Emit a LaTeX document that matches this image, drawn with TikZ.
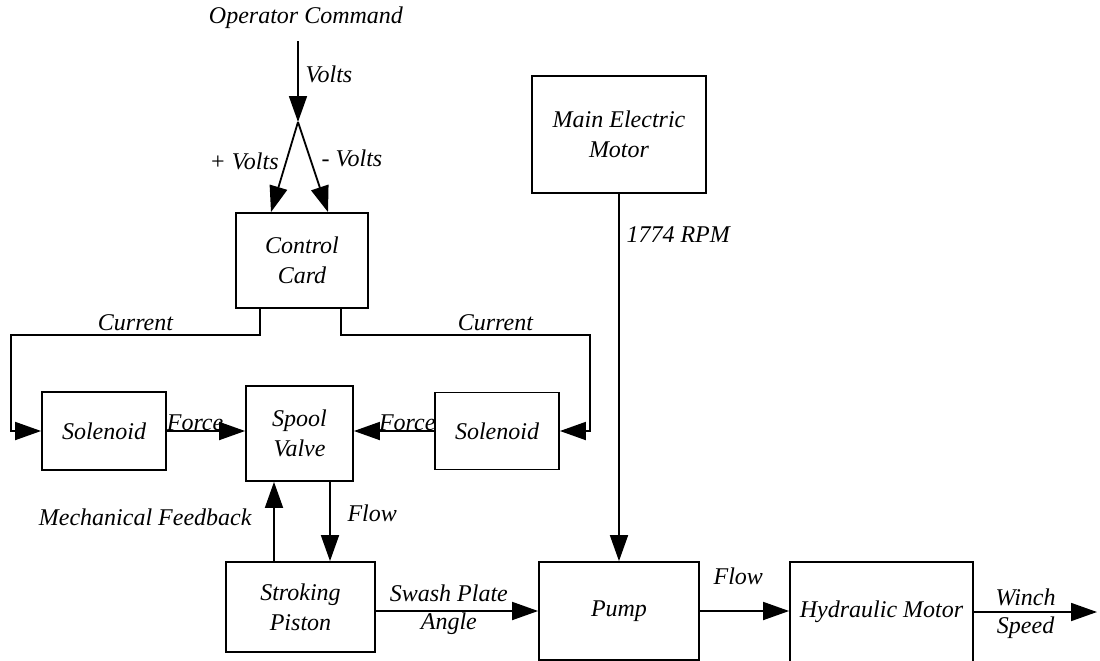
\documentclass[tikz,border=0pt]{standalone}
\usepackage{fontspec}
\setmainfont{Liberation Serif}
\usetikzlibrary{arrows.meta}

\begin{document}
\begin{tikzpicture}[x=0.5pt,y=-0.5pt,line width=0.9pt,
  every node/.style={font=\fontsize{12}{15}\selectfont\itshape},
  box/.style={draw,align=center,inner sep=2pt},
  arr/.style={-{Triangle[length=13pt,width=9pt]}}]
  \useasboundingbox (0,0) rectangle (1100,660);
  \node (cmd) at (306,18) {Operator Command};
  \coordinate (cmdin) at (298,41);
  \coordinate (split) at (298,122);
  \node[box,minimum width=66pt,minimum height=47.5pt] (ctrl) at (302,260.5) {Control\\Card};
  \node[box,minimum width=87pt,minimum height=58.5pt] (motor) at (619,134.5) {Main Electric\\Motor};
  \node[box,minimum width=62pt,minimum height=39pt] (solL) at (104,431) {Solenoid};
  \node[box,minimum width=53.5pt,minimum height=47.5pt] (spool) at (299.5,433.5) {Spool\\Valve};
  \node[box,minimum width=62pt,minimum height=38.5pt] (solR) at (497,431) {Solenoid};
  \node[box,minimum width=74.5pt,minimum height=45pt] (piston) at (300.5,607) {Stroking\\Piston};
  \node[box,minimum width=80pt,minimum height=49pt] (pump) at (619,611) {Pump};
  \node[box,minimum width=91.5pt,minimum height=50pt] (hm) at (881.5,612) {Hydraulic Motor};
  \coordinate (cl) at (11,335);
  \coordinate (cr) at (590,335);
  \coordinate (fb) at ([xshift=-13.25pt]piston.north);
  \coordinate (fl) at ([xshift=15.25pt]spool.south);
  \coordinate (out) at (1097,612);

  \draw[arr] (cmdin) -- node[pos=0.41,right=0pt] {Volts} (split);
  \draw[arr] (split) -- node[pos=0.44,left=0pt] {+ Volts} ([xshift=-15.5pt]ctrl.north);
  \draw[arr] (split) -- node[pos=0.4,right=2pt] {- Volts} ([xshift=13pt]ctrl.north);
  \draw[arr] ([xshift=-21pt]ctrl.south) |- node[pos=0.75,above=-1.5pt] {Current} (cl) |- (solL.west);
  \draw[arr] ([xshift=19.5pt]ctrl.south) |- node[pos=0.81,above=-1.5pt] {Current} (cr) |- (solR.east);
  \draw[arr] (solL.east) -- node[pos=0.36,above=-3.5pt] {Force} (solL.east -| spool.west);
  \draw[arr] (solR.west) -- node[pos=0.335,above=-3.5pt] {Force} (solR.west -| spool.east);
  \draw[arr] (fb) -- node[pos=0.556,left=7.5pt] {Mechanical Feedback} (fb |- spool.south);
  \draw[arr] (fl) -- node[pos=0.4,right=5pt] {Flow} (fl |- piston.north);
  \draw[arr] (pump.west -| piston.east) -- node[pos=0.45,above=1pt] {Swash Plate}
    node[pos=0.45,below=-3pt] {Angle} (pump.west);
  \draw[arr] (motor) -- node[pos=0.11,right=0pt] {1774 RPM} (pump);
  \draw[arr] (pump.east) -- node[pos=0.43,above=9.5pt] {Flow} (pump.east -| hm.west);
  \draw[arr] (hm.east) -- node[pos=0.42,above=-0.5pt] {Winch}
    node[pos=0.42,below=-1.25pt] {Speed} (out);
\end{tikzpicture}
\end{document}
